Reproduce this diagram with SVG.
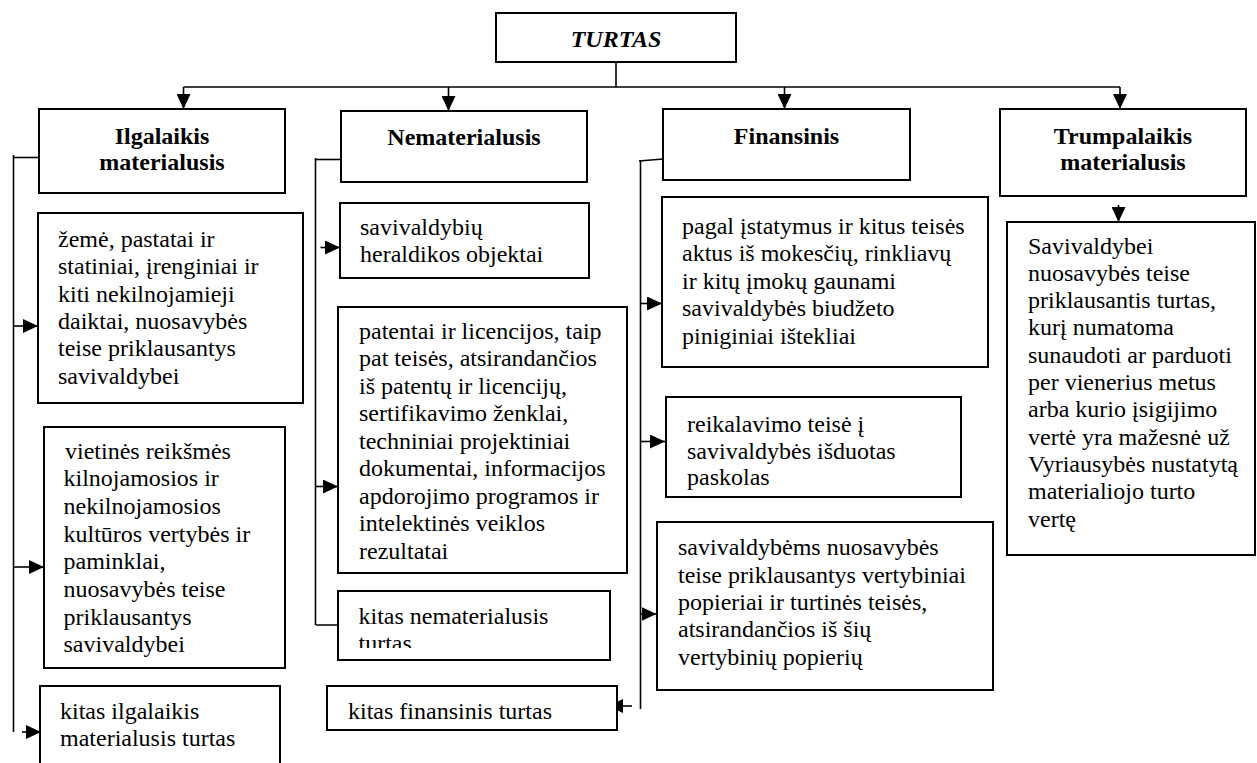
<svg xmlns="http://www.w3.org/2000/svg" width="1257" height="763" viewBox="0 0 1257 763">
<style>
.box{fill:#fff;stroke:#000;stroke-width:2}
.ln{fill:none;stroke:#000;stroke-width:1.6}
.ar{fill:none;stroke:#000;stroke-width:1.6;marker-end:url(#ah)}
.t{font-family:"Liberation Serif","Times New Roman",serif;font-size:24px;fill:#000}
.h{font-family:"Liberation Serif","Times New Roman",serif;font-size:24px;font-weight:bold;fill:#000;text-anchor:middle}
</style>
<defs>
<marker id="ah" markerUnits="userSpaceOnUse" markerWidth="15" markerHeight="14" refX="15" refY="7" orient="auto">
<path d="M0,0 L15,7 L0,14 Z" fill="#000"/>
</marker>
<clipPath id="clipKN"><rect x="338" y="591" width="272" height="57"/></clipPath>
</defs>
<rect width="1257" height="763" fill="#fff"/>

<g id="connectors">
<line class="ln" x1="616" y1="62" x2="616" y2="87"/>
<line class="ln" x1="183.5" y1="87" x2="1120" y2="87"/>
<line class="ar" x1="183.5" y1="87" x2="183.5" y2="109"/>
<line class="ar" x1="448.5" y1="87" x2="448.5" y2="111"/>
<line class="ar" x1="784.5" y1="87" x2="784.5" y2="109"/>
<line class="ar" x1="1120" y1="87" x2="1120" y2="109"/>
<!-- Ilgalaikis -->
<line class="ln" x1="13.5" y1="155" x2="13.5" y2="732"/>
<line class="ln" x1="14" y1="157.5" x2="39" y2="157.5"/>
<line class="ar" x1="14" y1="326" x2="38" y2="326"/>
<line class="ar" x1="14" y1="567" x2="44" y2="567"/>
<line class="ar" x1="22" y1="732" x2="41" y2="732"/>
<!-- Nematerialusis -->
<line class="ln" x1="315.5" y1="158" x2="315.5" y2="625"/>
<line class="ln" x1="316" y1="159.5" x2="341" y2="159.5"/>
<line class="ar" x1="320.5" y1="247.5" x2="340" y2="247.5"/>
<line class="ar" x1="316" y1="486.5" x2="338" y2="486.5"/>
<line class="ar" x1="316" y1="625" x2="353" y2="625"/>
<!-- Finansinis -->
<line class="ln" x1="640.5" y1="160" x2="640.5" y2="709"/>
<line class="ln" x1="639" y1="161" x2="663" y2="159"/>
<line class="ar" x1="641" y1="303.5" x2="662" y2="303.5"/>
<line class="ar" x1="641" y1="441.5" x2="665" y2="441.5"/>
<line class="ar" x1="641" y1="614" x2="656.5" y2="614"/>
<line class="ar" x1="632" y1="706" x2="608" y2="706"/>
<!-- Trumpalaikis -->
<line class="ar" x1="1118.5" y1="205" x2="1118.5" y2="222"/>
</g>

<g id="turtas">
<rect class="box" x="496" y="13" width="240" height="49"/>
<text class="h" x="616" y="46.5" font-style="italic">TURTAS</text>
</g>

<g id="ilgalaikis">
<rect class="box" x="39" y="109" width="246" height="84"/>
<text class="h" x="162" y="143.5">Ilgalaikis</text>
<text class="h" x="162" y="170">materialusis</text>
</g>

<g id="nematerialusis">
<rect class="box" x="341" y="111" width="246" height="71"/>
<text class="h" x="464" y="144.5">Nematerialusis</text>
</g>

<g id="finansinis">
<rect class="box" x="663" y="109" width="247" height="71"/>
<text class="h" x="786.5" y="143.5">Finansinis</text>
</g>

<g id="trumpalaikis">
<rect class="box" x="1000" y="109" width="246" height="87"/>
<text class="h" x="1123" y="143.5">Trumpalaikis</text>
<text class="h" x="1123" y="170">materialusis</text>
</g>

<g id="zeme">
<rect class="box" x="38" y="213" width="265" height="190"/>
<text class="t">
<tspan x="58" y="247">žemė, pastatai ir</tspan>
<tspan x="58" y="274.3">statiniai, įrenginiai ir</tspan>
<tspan x="58" y="301.6">kiti nekilnojamieji</tspan>
<tspan x="58" y="328.9">daiktai, nuosavybės</tspan>
<tspan x="58" y="356.2">teise priklausantys</tspan>
<tspan x="58" y="383.5">savivaldybei</tspan>
</text>
</g>

<g id="vietines">
<rect class="box" x="44" y="427" width="241" height="241"/>
<text class="t">
<tspan x="65" y="458.5">vietinės reikšmės</tspan>
<tspan x="63.5" y="486.2">kilnojamosios ir</tspan>
<tspan x="63.5" y="513.9">nekilnojamosios</tspan>
<tspan x="63.5" y="541.6">kultūros vertybės ir</tspan>
<tspan x="63.5" y="569.3">paminklai,</tspan>
<tspan x="63.5" y="597">nuosavybės teise</tspan>
<tspan x="63.5" y="624.7">priklausantys</tspan>
<tspan x="63.5" y="652.4">savivaldybei</tspan>
</text>
</g>

<g id="kitas-ilgalaikis">
<path class="box" d="M40,770 L40,686 L280,686 L280,770"/>
<text class="t">
<tspan x="60" y="718.5">kitas ilgalaikis</tspan>
<tspan x="60" y="746">materialusis turtas</tspan>
</text>
</g>

<g id="heraldika">
<rect class="box" x="340" y="203" width="249" height="75"/>
<text class="t">
<tspan x="360" y="235">savivaldybių</tspan>
<tspan x="360" y="262">heraldikos objektai</tspan>
</text>
</g>

<g id="patentai">
<rect class="box" x="338" y="307" width="289" height="266"/>
<text class="t">
<tspan x="359" y="338.5">patentai ir licencijos, taip</tspan>
<tspan x="359" y="366">pat teisės, atsirandančios</tspan>
<tspan x="359" y="393.5">iš patentų ir licencijų,</tspan>
<tspan x="359" y="421">sertifikavimo ženklai,</tspan>
<tspan x="359" y="448.5">techniniai projektiniai</tspan>
<tspan x="359" y="476">dokumentai, informacijos</tspan>
<tspan x="359" y="503.5">apdorojimo programos ir</tspan>
<tspan x="359" y="531">intelektinės veiklos</tspan>
<tspan x="359" y="558.5">rezultatai</tspan>
</text>
</g>

<g id="kitas-nematerialusis">
<rect class="box" x="338" y="591" width="272" height="69"/>
<text class="t" clip-path="url(#clipKN)">
<tspan x="358.5" y="623.5">kitas nematerialusis</tspan>
<tspan x="358.5" y="651">turtas</tspan>
</text>
</g>

<g id="kitas-finansinis">
<rect class="box" x="327" y="686" width="290" height="44"/>
<text class="t" x="348" y="718.5">kitas finansinis turtas</text>
</g>

<g id="pagal">
<rect class="box" x="662" y="197" width="326" height="170"/>
<text class="t">
<tspan x="682" y="233.5">pagal įstatymus ir kitus teisės</tspan>
<tspan x="682" y="261">aktus iš mokesčių, rinkliavų</tspan>
<tspan x="682" y="288.5">ir kitų įmokų gaunami</tspan>
<tspan x="682" y="316">savivaldybės biudžeto</tspan>
<tspan x="682" y="343.5">piniginiai ištekliai</tspan>
</text>
</g>

<g id="reikalavimo">
<rect class="box" x="666" y="397" width="295" height="100"/>
<text class="t">
<tspan x="687" y="431.5">reikalavimo teisė į</tspan>
<tspan x="687" y="458.5">savivaldybės išduotas</tspan>
<tspan x="687" y="485">paskolas</tspan>
</text>
</g>

<g id="vertybiniai">
<rect class="box" x="657" y="522" width="336" height="168"/>
<text class="t">
<tspan x="678" y="555">savivaldybėms nuosavybės</tspan>
<tspan x="678" y="582.5">teise priklausantys vertybiniai</tspan>
<tspan x="678" y="610">popieriai ir turtinės teisės,</tspan>
<tspan x="678" y="637">atsirandančios iš šių</tspan>
<tspan x="678" y="664.5">vertybinių popierių</tspan>
</text>
</g>

<g id="trumpalaikis-turtas">
<rect class="box" x="1007" y="222" width="248" height="333"/>
<text class="t">
<tspan x="1028" y="253.5">Savivaldybei</tspan>
<tspan x="1028" y="280.8">nuosavybės teise</tspan>
<tspan x="1028" y="308.1">priklausantis turtas,</tspan>
<tspan x="1028" y="335.4">kurį numatoma</tspan>
<tspan x="1028" y="362.7">sunaudoti ar parduoti</tspan>
<tspan x="1028" y="390">per vienerius metus</tspan>
<tspan x="1028" y="417.3">arba kurio įsigijimo</tspan>
<tspan x="1028" y="444.6">vertė yra mažesnė už</tspan>
<tspan x="1028" y="471.9">Vyriausybės nustatytą</tspan>
<tspan x="1028" y="499.2">materialiojo turto</tspan>
<tspan x="1028" y="526.5">vertę</tspan>
</text>
</g>
</svg>
